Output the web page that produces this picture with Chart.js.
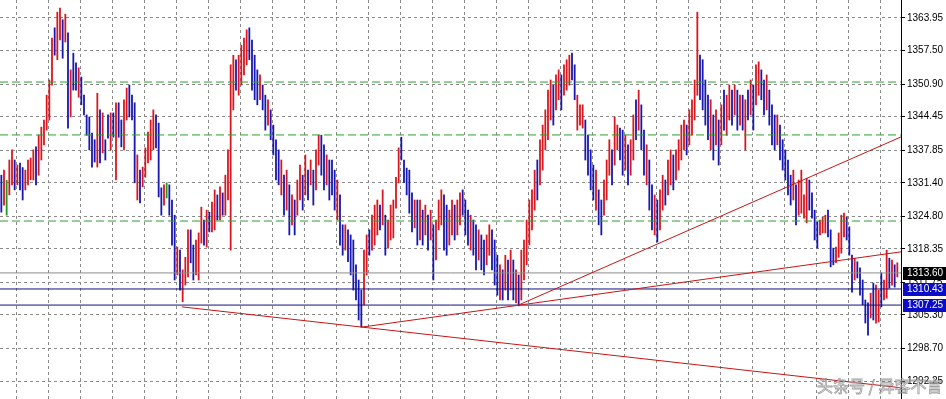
<!DOCTYPE html>
<html>
<head>
<meta charset="utf-8">
<title>XAUUSD bars</title>
<style>
  html, body { margin: 0; padding: 0; background: #fff; }
  #wrap { width: 946px; height: 399px; }
</style>
<script src="https://cdn.jsdelivr.net/npm/chart.js@4/dist/chart.umd.min.js"></script>
</head>
<body>
<div id="wrap"><canvas id="chart" width="946" height="399"></canvas></div>
<script>
/* ── Price data (one entry per bar, left to right) ───────────────────── */
var HIGHS = [
  1332.9,1333.9,1331.9,1335.9,1337.9,1335.9,1334.9,1335.3,1334.4,1333.9,1335.9,1336.3,
  1337.9,1338.5,1340.8,1342.4,1343.8,1348.7,1351.7,1360.0,1362.0,1365.1,1365.9,1363.6,
  1364.7,1361.0,1353.7,1357.0,1355.1,1354.1,1352.3,1348.7,1344.8,1344.4,1341.2,1339.9,
  1349.1,1345.8,1345.2,1339.9,1344.8,1345.2,1345.2,1347.2,1347.2,1343.8,1347.8,1350.1,
  1350.7,1348.7,1347.2,1336.9,1333.9,1334.5,1338.3,1341.4,1343.8,1345.8,1344.8,1343.2,
  1330.4,1331.0,1331.4,1331.0,1328.0,1325.0,1318.7,1318.1,1314.2,1316.7,1322.1,1322.1,
  1319.1,1320.1,1321.5,1326.6,1324.05,1326.0,1325.6,1327.6,1330.0,1329.0,1330.6,1329.4,
  1332.9,1337.9,1354.7,1356.6,1355.7,1356.6,1358.6,1360.0,1361.6,1362.0,1359.6,1356.6,
  1353.7,1352.7,1350.7,1348.7,1347.8,1345.8,1342.8,1339.9,1337.9,1335.9,1332.9,1333.9,
  1331.0,1329.0,1328.0,1331.95,1334.9,1332.9,1336.9,1333.9,1335.9,1333.9,1337.9,1340.8,
  1340.8,1338.9,1336.9,1335.9,1335.9,1333.9,1331.95,1329.0,1323.1,1323.1,1322.1,1321.1,
  1320.1,1315.2,1312.2,1310.2,1318.1,1321.1,1322.1,1325.0,1327.0,1328.0,1327.0,1330.0,
  1325.0,1324.05,1327.0,1328.0,1332.5,1338.3,1340.4,1335.9,1334.3,1333.9,1329.4,1328.0,
  1328.0,1328.0,1326.0,1327.0,1325.0,1326.0,1323.1,1324.05,1328.0,1330.0,1329.0,1327.0,
  1326.0,1328.0,1327.0,1328.0,1329.4,1330.0,1328.0,1326.0,1325.0,1324.05,1323.1,1322.1,
  1321.1,1320.1,1321.1,1323.1,1322.1,1320.1,1317.1,1315.2,1314.2,1317.1,1316.15,1318.1,
  1316.15,1314.2,1313.2,1318.1,1320.1,1324.05,1328.0,1330.0,1333.9,1335.9,1339.9,1342.8,
  1345.8,1349.7,1351.7,1350.7,1352.7,1353.7,1352.7,1354.7,1355.7,1356.6,1357.0,1354.7,
  1348.7,1346.8,1346.8,1343.8,1340.8,1337.9,1334.9,1333.9,1330.0,1328.0,1331.95,1335.9,
  1339.9,1337.9,1344.4,1342.8,1342.2,1341.8,1340.8,1338.9,1339.9,1344.8,1347.8,1349.7,
  1346.8,1341.8,1338.9,1335.9,1331.0,1329.0,1328.0,1330.0,1332.9,1331.95,1335.9,1337.9,
  1336.9,1337.9,1339.9,1342.8,1343.8,1342.8,1345.8,1347.8,1351.7,1365.1,1356.6,1355.7,
  1351.7,1348.7,1347.8,1344.8,1345.8,1343.8,1346.8,1349.7,1348.7,1350.7,1349.7,1350.7,
  1349.7,1348.7,1348.7,1347.8,1349.7,1351.7,1350.7,1354.7,1355.3,1353.7,1351.7,1352.7,
  1349.7,1346.8,1344.8,1344.8,1342.8,1339.9,1337.9,1335.9,1332.9,1333.9,1331.0,1331.95,
  1333.9,1329.0,1332.3,1331.95,1329.4,1326.0,1323.7,1324.05,1324.6,1325.0,1326.0,1322.1,
  1318.5,1318.7,1321.5,1325.0,1325.4,1324.6,1322.7,1317.1,1316.5,1315.8,1314.6,1312.2,
  1308.25,1307.7,1309.6,1311.6,1311.2,1310.2,1313.6,1312.2,1318.1,1316.5,1316.15,1315.2,1315.6
];
var LOWS = [
  1325.6,1327.0,1325.0,1329.0,1331.0,1330.0,1331.0,1330.0,1328.0,1330.0,1331.0,1332.0,
  1331.95,1331.0,1332.9,1335.9,1338.9,1341.8,1343.8,1350.7,1356.6,1355.7,1359.6,1356.0,
  1359.2,1342.2,1344.4,1349.7,1349.7,1348.3,1346.8,1344.8,1340.8,1337.9,1334.5,1335.5,
  1334.5,1335.3,1337.3,1335.9,1340.2,1337.9,1340.4,1331.95,1340.4,1338.5,1337.9,1343.8,
  1344.4,1343.8,1331.4,1328.0,1327.4,1330.6,1332.5,1335.3,1335.9,1337.9,1338.3,1328.6,
  1325.0,1327.0,1328.4,1325.0,1319.1,1312.2,1313.2,1310.2,1307.9,1311.2,1312.8,1315.6,
  1312.2,1313.2,1312.2,1319.5,1319.1,1318.7,1321.7,1321.7,1322.1,1324.05,1324.05,1325.0,
  1325.0,1328.0,1318.1,1345.8,1349.7,1348.7,1350.7,1352.7,1354.7,1355.7,1349.7,1347.8,
  1346.8,1347.8,1345.8,1341.8,1342.8,1339.9,1336.9,1331.95,1331.0,1329.0,1325.0,1326.0,
  1321.1,1323.1,1321.1,1325.0,1328.0,1326.0,1329.0,1328.0,1331.0,1327.0,1330.0,1334.9,
  1332.9,1330.0,1331.0,1328.0,1329.0,1326.0,1324.05,1319.1,1317.1,1318.1,1315.8,1313.2,
  1310.2,1308.25,1304.3,1302.9,1307.3,1313.2,1317.1,1318.1,1319.1,1321.1,1322.1,1323.1,
  1317.1,1318.5,1320.1,1320.5,1326.4,1331.4,1335.9,1331.4,1329.0,1325.4,1321.7,1322.5,
  1319.1,1320.1,1319.1,1321.1,1318.1,1320.1,1312.2,1316.15,1322.1,1323.1,1318.1,1317.1,
  1319.1,1321.1,1320.1,1321.1,1323.1,1325.0,1321.1,1319.1,1318.1,1317.1,1314.2,1316.15,
  1314.2,1313.2,1315.2,1317.1,1314.2,1311.2,1309.2,1308.25,1308.25,1310.2,1308.25,1310.2,
  1308.25,1307.7,1307.1,1308.25,1312.2,1315.2,1319.1,1322.1,1326.0,1328.0,1331.0,1333.9,
  1337.9,1339.9,1343.8,1342.8,1345.8,1347.8,1345.8,1348.7,1349.7,1350.7,1351.7,1347.8,
  1341.8,1342.8,1342.2,1335.9,1332.9,1330.0,1328.0,1326.0,1323.1,1321.1,1325.0,1328.0,
  1332.9,1331.0,1334.9,1337.9,1335.9,1332.9,1333.9,1331.0,1332.9,1335.9,1339.9,1341.8,
  1337.9,1332.9,1331.0,1326.0,1322.1,1321.1,1319.7,1322.1,1326.0,1327.0,1329.0,1331.0,
  1330.0,1331.95,1333.9,1335.9,1337.9,1336.9,1338.9,1340.8,1343.8,1348.7,1347.8,1345.8,
  1342.8,1339.9,1337.9,1335.9,1338.9,1334.9,1338.9,1341.8,1340.8,1343.8,1342.8,1344.8,
  1341.8,1342.8,1341.8,1337.9,1343.8,1344.8,1341.8,1346.8,1348.7,1347.8,1344.8,1345.8,
  1342.8,1338.9,1337.9,1338.9,1335.9,1333.9,1331.95,1329.0,1327.0,1328.0,1323.1,1325.0,
  1325.4,1324.4,1323.5,1326.0,1324.4,1320.1,1318.5,1321.1,1321.5,1321.5,1320.7,1314.8,
  1315.2,1315.6,1316.7,1317.5,1320.7,1320.1,1317.1,1309.8,1312.2,1312.6,1309.2,1307.3,
  1303.7,1301.3,1304.7,1304.3,1303.7,1303.9,1306.9,1308.25,1308.6,1310.6,1311.2,1310.8,1312.8
];
// U = close above open, D = close below open, N = unchanged
var DIRS = (
  'DUNUUDUDDUUU' + 'UDUUUUUUDUUD' + 'UDUDDUDDDDDD' + 'UDUDDUDUDDUU' +
  'DDDUDUUUUUDD' + 'DUNDDDUDUUUD' + 'DUUUDUDUUDUD' + 'UUUUDUUUUDDD' +
  'DUDDUDDDDUDU' + 'DUDUUDUDUDUU' + 'DDUDDDUDDUDD' + 'DDDDUUDUUUDU' +
  'DUUUUUDDDDDU' + 'DUDUDUDUUUDD' + 'UUDUUDDDUDDU' + 'DDUUDDDUDUDU' +
  'DUDUUUUUUDUU' + 'UUUDUUDUUUDD' + 'UUUDDDDUDDUU' + 'UDUUDDUDUUDU' +
  'DDUDDUDUUDUU' + 'DUUUUDUUUUDD' + 'DDUDUDUDUUDU' + 'DUDUDUDUUDDU' +
  'DDDUDDDDDUDU' + 'UUUDDDDUUUDD' + 'DUUUUDDDUDDD' + 'DDUDUUDUUDUDU'
).split('');

var PRICE_TICKS = [1292.25, 1298.70, 1305.30, 1311.75, 1318.35, 1324.80,
                   1331.40, 1337.85, 1344.45, 1350.90, 1357.50, 1363.95];
var BID = 1313.60;
var H_LINES = [1310.43, 1307.25];
var FIB_LINES = [1351.3, 1340.85, 1323.85];
// trend lines: [bar from, price from, bar through, price through], extended to the right
var TREND_LINES = [
  [68.2, 1306.9, 135.7, 1302.9],
  [135.7, 1302.9, 194.2, 1307.2],
  [194.2, 1307.2, 302.2, 1332.2]
];
var WATERMARK = '头条号 / 异客不言';

(function () {
  'use strict';

  var X_MAX = 337.875;   // bars visible across the plot
  var UP = '#d81820', DOWN = '#1818b0', FLAT = '#1e9e1e';

  var bars = HIGHS.map(function (h, i) { return { x: i + 0.5, y: [LOWS[i], h] }; });
  var barColors = DIRS.map(function (d) { return d === 'U' ? UP : (d === 'D' ? DOWN : FLAT); });

  function hLine(v, color, dash) {
    return {
      type: 'line', data: [{ x: 0, y: v }, { x: X_MAX, y: v }],
      borderColor: color, borderWidth: 1, borderDash: dash || [],
      pointRadius: 0, fill: false, order: 1
    };
  }

  var datasets = [{
    type: 'bar', data: bars, backgroundColor: barColors,
    barThickness: 1.15, borderWidth: 0, order: 2
  }];
  FIB_LINES.forEach(function (v) { datasets.push(hLine(v, '#2f9e2f', [8, 4])); });
  datasets.push(hLine(BID, '#8c8c8c'));
  H_LINES.forEach(function (v) { datasets.push(hLine(v, '#10107e')); });
  TREND_LINES.forEach(function (t) {
    var slope = (t[3] - t[1]) / (t[2] - t[0]);
    datasets.push({
      type: 'line',
      data: [{ x: t[0], y: t[1] }, { x: X_MAX, y: t[1] + slope * (X_MAX - t[0]) }],
      borderColor: '#c81414', borderWidth: 1, pointRadius: 0, fill: false, order: 0
    });
  });

  var labelsPlugin = {
    id: 'priceLabels',
    afterDraw: function (chart) {
      var ctx = chart.ctx, y = chart.scales.y, area = chart.chartArea;
      var boxes = [[BID, '#000000']].concat(H_LINES.map(function (v) { return [v, '#0c0cc8']; }));
      ctx.save();
      ctx.font = '10px "Liberation Sans", Arial, sans-serif';
      ctx.textBaseline = 'middle';
      boxes.forEach(function (b) {
        var py = Math.round(y.getPixelForValue(b[0]));
        ctx.fillStyle = b[1];
        ctx.fillRect(area.right + 2, py - 6, 44, 13);
        ctx.fillStyle = '#ffffff';
        ctx.fillText(b[0].toFixed(2), area.right + 6, py + 0.5);
      });
      // watermark
      ctx.font = '16px "Noto Sans CJK SC", sans-serif';
      ctx.textBaseline = 'alphabetic';
      ctx.lineWidth = 0.8;
      ctx.fillStyle = 'rgba(255,255,255,0.55)';
      ctx.strokeStyle = 'rgba(120,120,120,0.7)';
      ctx.fillText(WATERMARK, 817, 392);
      ctx.strokeText(WATERMARK, 817, 392);
      ctx.restore();
    }
  };

  new Chart(document.getElementById('chart'), {
    type: 'bar',
    data: { datasets: datasets },
    plugins: [labelsPlugin],
    options: {
      responsive: false,
      animation: false,
      layout: { padding: 0 },
      plugins: { legend: { display: false }, tooltip: { enabled: false } },
      scales: {
        x: {
          type: 'linear', min: 0, max: X_MAX, offset: false,
          afterBuildTicks: function (s) {
            var t = [];
            for (var v = 12; v < X_MAX; v += 12) t.push({ value: v });
            s.ticks = t;
          },
          ticks: { display: false },
          grid: { color: '#8a8a8a', drawTicks: false, lineWidth: 1 },
          border: { display: false, dash: [3, 3] }
        },
        y: {
          position: 'right', min: 1288.70, max: 1367.50,
          afterBuildTicks: function (s) {
            s.ticks = PRICE_TICKS.map(function (v) { return { value: v }; });
          },
          afterFit: function (s) { s.width = 45; s.paddingTop = 0; s.paddingBottom = 0; },
          ticks: {
            autoSkip: false, padding: 2, color: '#000',
            font: { family: '"Liberation Sans", Arial, sans-serif', size: 10 },
            callback: function (v) { return Number(v).toFixed(2); }
          },
          grid: { color: '#8a8a8a', tickLength: 4, tickColor: '#000', tickBorderDash: [] },
          border: { display: true, color: '#000', width: 1, dash: [3, 3] }
        }
      }
    }
  });
})();
</script>
</body>
</html>
